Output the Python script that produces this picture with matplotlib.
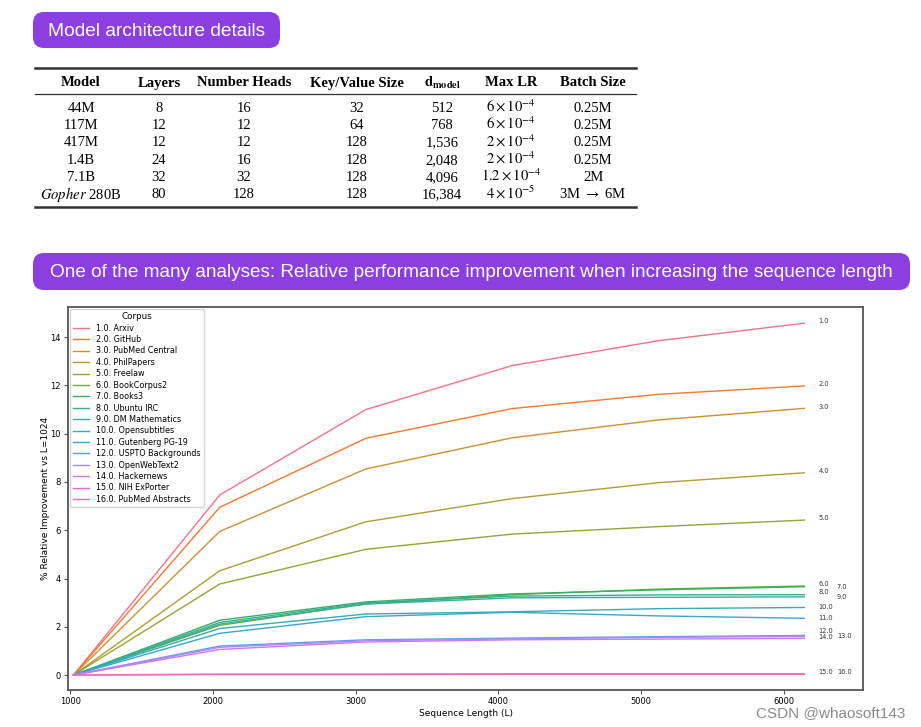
import matplotlib
matplotlib.use('Agg')
import matplotlib.pyplot as plt
from matplotlib.patches import FancyBboxPatch
import seaborn as sns

plt.rcParams['mathtext.fontset'] = 'stix'

# ---------------------------------------------------------------- tabla
table_header = ['Model', 'Layers', 'Number Heads', 'Key/Value Size',
                r'$\mathbf{d_{model}}$', 'Max LR', 'Batch Size']
model_names = [r'44M', r'117M', r'417M', r'1.4B', r'7.1B', r'$\mathit{Gopher}$ 280B']
layers = ['8', '12', '12', '24', '32', '80']
num_heads = ['16', '12', '12', '16', '32', '128']
kv_size = ['32', '64', '128', '128', '128', '128']
d_model = ['512', '768', '1,536', '2,048', '4,096', '16,384']
max_lr = [r'$6\times10^{-4}$', r'$6\times10^{-4}$', r'$2\times10^{-4}$',
          r'$2\times10^{-4}$', r'$1.2\times10^{-4}$', r'$4\times10^{-5}$']
batch_size = ['0.25M', '0.25M', '0.25M', '0.25M', '2M', r'3M $\rightarrow$ 6M']

# ---------------------------------------------------------------- datos grafica
seq_len = [1024, 2048, 3072, 4096, 5120, 6144]

corpus_names = ['Arxiv', 'GitHub', 'PubMed Central', 'PhilPapers', 'Freelaw',
                'BookCorpus2', 'Books3', 'Ubuntu IRC', 'DM Mathematics',
                'Opensubtitles', 'Gutenberg PG-19', 'USPTO Backgrounds',
                'OpenWebText2', 'Hackernews', 'NIH ExPorter', 'PubMed Abstracts']

arxiv = [0, 7.46, 11.0, 12.82, 13.85, 14.58]
github = [0, 6.95, 9.81, 11.04, 11.63, 11.98]
pubmed_central = [0, 5.95, 8.54, 9.83, 10.57, 11.05]
philpapers = [0, 4.32, 6.35, 7.31, 7.97, 8.38]
freelaw = [0, 3.77, 5.21, 5.84, 6.15, 6.42]
bookcorpus2 = [0, 2.06, 2.95, 3.33, 3.56, 3.69]
books3 = [0, 2.27, 3.03, 3.36, 3.53, 3.66]
ubuntu_irc = [0, 2.18, 2.99, 3.27, 3.32, 3.33]
dm_math = [0, 2.11, 2.94, 3.20, 3.22, 3.24]
opensubtitles = [0, 1.93, 2.53, 2.62, 2.75, 2.80]
gutenberg = [0, 1.73, 2.42, 2.60, 2.45, 2.35]
uspto = [0, 1.20, 1.46, 1.53, 1.59, 1.64]
openwebtext2 = [0, 1.15, 1.42, 1.50, 1.56, 1.60]
hackernews = [0, 1.06, 1.37, 1.46, 1.49, 1.52]
nih_exporter = [0, 0.02, 0.02, 0.03, 0.03, 0.03]
pubmed_abstracts = [0, 0.04, 0.04, 0.05, 0.05, 0.05]

series = [arxiv, github, pubmed_central, philpapers, freelaw, bookcorpus2, books3,
          ubuntu_irc, dm_math, opensubtitles, gutenberg, uspto, openwebtext2,
          hackernews, nih_exporter, pubmed_abstracts]

PURPLE = '#8B3FE0'

fig = plt.figure(figsize=(9.21, 7.27), dpi=100)

# ejes de fondo en pixeles para la "diapositiva"
bg = fig.add_axes([0, 0, 1, 1])
bg.set_xlim(0, 921)
bg.set_ylim(727, 0)
bg.axis('off')


def purple_box(x0, y0, x1, y1, text, size):
    box = FancyBboxPatch((x0, y0), x1 - x0, y1 - y0,
                         boxstyle='round,pad=0,rounding_size=11',
                         fc=PURPLE, ec='none')
    bg.add_patch(box)
    bg.text((x0 + x1) / 2, (y0 + y1) / 2 + 1, text, color='white', ha='center',
            va='center', fontsize=size, family='Liberation Sans')


purple_box(33, 12, 280, 48, 'Model architecture details', 13.8)
purple_box(33, 253, 910, 290,
           'One of the many analyses: Relative performance improvement when increasing the sequence length',
           13.7)

# tabla
col_x = [81, 159, 244, 357, 442, 511, 593]
bg.plot([35, 636], [68, 68], color='#333333', lw=1.8)
bg.plot([35, 636], [94, 94], color='#333333', lw=0.9)
bg.plot([35, 636], [207, 207], color='#333333', lw=1.8)
for x, h in zip(col_x, table_header):
    bg.text(x, 86.5, h, ha='center', va='baseline', fontsize=10.5,
            family='Liberation Serif', fontweight='bold')
columns = [model_names, layers, num_heads, kv_size, d_model, max_lr, batch_size]
for x, col in zip(col_x, columns):
    for r, val in enumerate(col):
        bg.text(x, 111.5 + 17.4 * r, val, ha='center', va='baseline', fontsize=10.5,
                family='Liberation Serif')

# grafica
ax = fig.add_axes([68 / 921, 1 - 690 / 727, 795 / 921, 383 / 727])
palette = sns.color_palette('husl', 16)

for i, (name, vals) in enumerate(zip(corpus_names, series)):
    ax.plot(seq_len, vals, color=palette[i], lw=1.0, label=f'{i + 1}.0. {name}')

# etiquetas al final de cada linea (las que se solapan van a una segunda columna)
second_col = {7, 9, 13, 16}
nudge = {1: 0.08, 2: 0.08, 3: 0.06, 4: 0.08, 5: 0.07, 6: 0.1, 8: 0.1,
         12: 0.18, 14: 0.04, 15: 0.09, 16: 0.06}
for i, vals in enumerate(series):
    k = i + 1
    x = 6245 if k not in second_col else 6372
    ax.text(x, vals[-1] + nudge.get(k, 0.0), f'{k}.0', fontsize=4.8,
            va='center', ha='left', color='#333333')

ax.set_xlim(985, 6555)
ax.set_ylim(-0.62, 15.25)
ax.set_xticks([1000, 2000, 3000, 4000, 5000, 6000])
ax.set_yticks([0, 2, 4, 6, 8, 10, 12, 14])
for s in ax.spines.values():
    s.set_color('#555555')
    s.set_linewidth(1.3)
ax.tick_params(labelsize=6, length=3, width=0.8, color='#555555', pad=2)
ax.set_xlabel('Sequence Length (L)', fontsize=6.5, labelpad=2)
ax.set_ylabel('% Relative Improvement vs L=1024', fontsize=6.5, labelpad=0.5)

ax.legend(title='Corpus', loc='upper left', fontsize=5.8, title_fontsize=6.3,
          labelspacing=0.3, borderaxespad=0.25, handlelength=2.0)

bg.text(905, 713, 'CSDN @whaosoft143', ha='right', va='center', color='#8a8a8a',
        fontsize=11, family='Liberation Sans')

fig.savefig('out.png', dpi=100)
